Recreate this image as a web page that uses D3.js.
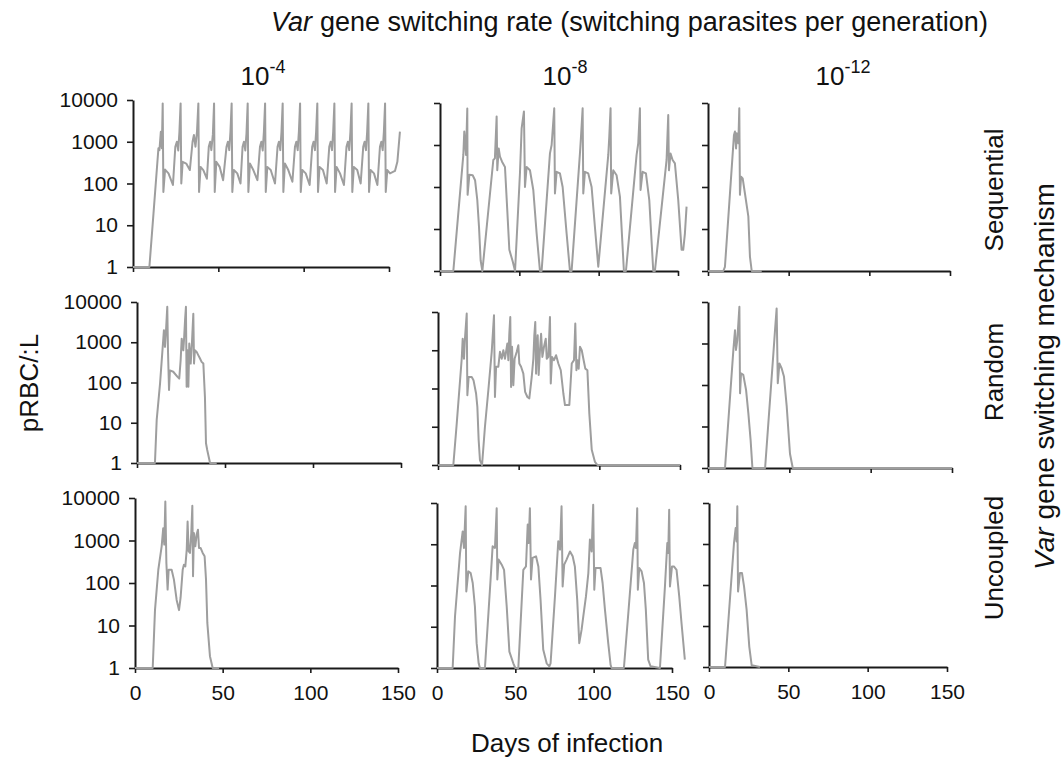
<!DOCTYPE html>
<html>
<head>
<meta charset="utf-8">
<script src="https://cdn.jsdelivr.net/npm/d3@7"></script>
<style>
  body { margin: 0; background: #fff; }
  text { font-family: "Liberation Sans", Arial, sans-serif; fill: #111; }
</style>
</head>
<body>
<svg id="chart" width="1061" height="761"></svg>
<script>
// switching rates (column headers) and mechanisms (row labels)
var rateExponents = ['-4', '-8', '-12']
var mechanisms = ['Sequential', 'Random', 'Uncoupled']
var dayTicks = [0, 50, 100, 150]
var countTicks = [1, 10, 100, 1000, 10000]

// [day, pRBC/uL]
var seqHigh = [[0,1],[9.6,1],[12.0,19],[14.9,700],[15.5,630],[16.3,1740],[16.9,700],[17.4,8300],
  [17.8,63],[18.8,215],[20.8,175],[23.4,92],[24.8,760],[25.7,1000],[26.5,620],[27.2,1740],[27.9,8300],
  [28.3,100],[29.1,330],[31.2,300],[33.3,210],[34.9,1000],[35.7,1450],[36.6,760],[37.5,1740],[38.3,8300],
  [38.7,63],[39.6,250],[41.2,210],[43.3,130],[44.4,760],[45.2,1000],[45.9,630],[46.8,1500],[47.5,8300],
  [47.9,63],[48.8,330],[50.8,250],[52.8,120],[54.8,760],[55.6,1000],[56.4,630],[57.1,1740],[57.8,8300],
  [58.2,63],[59.1,210],[61.1,175],[63.0,100],[64.2,760],[65.0,1000],[65.8,620],[66.5,1600],[67.2,8300],
  [67.6,63],[68.5,300],[70.5,210],[72.9,120],[74.4,760],[75.2,1000],[76.0,620],[76.7,1740],[77.4,8300],
  [77.8,63],[78.7,250],[80.7,210],[83.2,100],[84.7,760],[85.5,1000],[86.3,630],[87.0,1740],[87.7,8300],
  [88.1,63],[89.0,300],[91.0,210],[93.4,110],[94.9,760],[95.7,1000],[96.5,630],[97.2,1740],[97.9,8300],
  [98.3,63],[99.2,210],[101.2,175],[103.5,92],[105.0,760],[105.8,1000],[106.6,630],[107.3,1740],[108.0,8300],
  [108.4,63],[109.3,250],[111.3,210],[113.5,100],[115.0,760],[115.8,1000],[116.6,630],[117.3,1740],[118.0,8300],
  [118.4,63],[119.3,250],[121.3,175],[123.6,92],[125.1,760],[125.9,1000],[126.7,630],[127.4,1740],[128.1,8300],
  [128.5,63],[129.4,250],[131.4,210],[133.4,100],[134.9,760],[135.7,1000],[136.5,630],[137.2,1740],[137.9,8300],
  [138.3,63],[139.2,210],[141.2,175],[143.2,92],[144.7,760],[145.5,1000],[146.3,630],[147.0,1740],[147.7,8300],
  [148.1,63],[149.0,210],[150.6,175],[153.5,200],[154.9,330],[156.4,1740]]

var seqMid = [[0,1],[8.4,1],[14.7,580],[15.3,2100],[16.4,580],[17.2,7400],[17.4,65],[18.5,195],[20.6,190],
  [22.1,145],[23.5,49],[24.6,11],[25.6,1.8],[26.7,1],
  [33.6,440],[34.6,480],[35.7,4800],[36.1,250],[37.0,830],[37.8,530],[39.1,400],[40.95,300],[42.4,28],
  [43.7,3.2],[45.8,1.7],[47.3,1],
  [50.4,215],[51.45,2500],[52.9,6300],[53.55,100],[54.6,300],[56.7,250],[58.8,85],[60.9,7.8],[63.0,1],
  [64.05,1],[69.3,630],[70.35,1000],[72.0,7450],[72.45,70],[73.5,230],[75.6,210],[77.3,100],[79.8,7.8],[81.9,1],
  [82.95,1],[88.2,630],[88.8,1450],[89.9,7450],[90.3,70],[91.35,230],[93.45,210],[95.55,100],[97.65,11],[99.75,1.26],
  [106.05,580],[106.7,1600],[107.5,7450],[107.9,70],[109.2,250],[111.3,190],[113.4,59],[115.9,1],
  [117.2,1],[123.9,580],[124.95,1100],[126.0,7450],[126.4,85],[127.7,230],[129.8,210],[131.9,49],[134.4,1],
  [135.45,1],[142.8,440],[143.85,5200],[144.3,250],[145.3,630],[146.6,440],[148.05,365],[150.15,49],
  [152.25,3.2],[153.3,3.2],[154.35,7.8],[155.4,34]]

var seqLow = [[0,1],[9.5,1],[10.5,1.26],[16.1,1740],[16.7,2100],[17.4,830],[17.8,1900],[18.8,1100],
  [19.4,7450],[19.8,65],[20.5,175],[21.5,160],[22.9,70],[25.0,20],[26.0,2.2],[27.1,1],[33.3,1]]

var randHigh = [[0,1],[10.2,1],[11.2,12],[13.1,95],[15.3,2000],[15.9,770],[16.5,2000],[17.2,7600],[17.6,630],
  [18.2,65],[18.7,200],[20.6,185],[22.9,140],[24.0,125],[24.8,360],[25.4,1230],[26.3,630],[26.7,1120],
  [27.3,3500],[27.8,7600],[28.2,78],[28.6,630],[29.2,78],[29.7,930],[30.5,295],[31.2,930],[32.0,5100],
  [32.4,295],[32.9,630],[33.9,575],[34.8,480],[35.8,395],[36.7,325],[37.7,295],[38.6,44],[39.2,3.1],
  [39.9,2.1],[41.5,1],[45.3,1]]

var randMid = [[0,1],[9.5,1],[11.6,12],[14.7,600],[15.3,2000],[16.1,600],[16.7,2000],[17.8,9100],[18.2,67],
  [19.0,200],[20.9,200],[22.0,165],[23.6,74],[24.4,33],[25.2,4.5],[26.0,1.35],[27.3,1],
  [29.1,10],[31.2,90],[33.3,910],[34.7,8200],[35.3,60],[36.0,370],[37.4,370],[38.4,910],[39.5,600],
  [40.5,1000],[41.5,600],[43.0,1500],[43.6,550],[44.2,2700],[44.8,7400],[45.3,110],[45.9,1230],[46.7,122],
  [47.5,600],[48.8,910],[49.8,1350],[50.4,450],[51.5,370],[52.9,245],[54.0,82],[55.4,60],[56.6,55],
  [58.1,200],[59.1,600],[59.7,2450],[60.3,5500],[60.8,245],[61.2,1000],[61.8,2450],[62.4,225],[63.2,1000],
  [63.9,2700],[64.7,670],[65.7,1230],[66.8,2000],[67.4,600],[68.4,670],[69.4,7400],[69.9,135],[70.7,670],
  [71.9,550],[73.2,740],[74.6,450],[76.1,300],[77.7,74],[78.7,37],[81.4,37],[82.9,450],[84.3,550],
  [85.1,5000],[85.8,300],[86.4,550],[87.2,330],[88.0,1230],[89.1,1000],[90.1,600],[91.3,330],[92.6,300],
  [93.8,22],[95.3,2.5],[97.3,1.2],[98.8,1],[150,1]]

var randLow = [[0,1],[10.45,1],[15.6,700],[16.6,2100],[17.2,700],[18.0,1200],[19.3,7700],[19.7,63],
  [20.3,190],[21.7,175],[23.4,76],[24.8,21],[26.2,4.7],[27.3,1],[35.1,1],[40.2,580],[41.2,2100],
  [42.2,7000],[42.9,110],[43.9,330],[45.3,250],[46.7,160],[48.4,30],[50.4,2.2],[52.1,1],[150,1]]

var uncHigh = [[0,1],[10.1,1],[11.4,23],[13.3,205],[15.2,730],[16.1,1950],[16.7,800],[17.3,8300],[17.9,295],
  [18.6,70],[19.2,205],[20.9,205],[22.2,120],[23.75,40],[25.1,23],[26.0,45],[27.2,205],[27.9,270],
  [28.7,245],[29.5,610],[30.0,2800],[30.6,560],[31.35,510],[32.1,1500],[32.7,6600],[33.1,144],[33.6,1500],
  [34.4,730],[35.15,1380],[35.9,1800],[36.5,670],[37.4,670],[38.6,510],[39.7,425],[40.5,120],[41.25,11.5],
  [42.75,1.9],[44.3,1],[48.0,1]]

var uncMid = [[0,1],[10.0,1],[11.5,18],[14.7,610],[16.4,2050],[17.2,810],[18.3,8300],[18.7,72],[20.0,220],
  [21.5,200],[22.8,115],[24.2,31],[25.3,4],[26.6,1.3],[27.4,1],[30.6,1],
  [34.2,140],[35.5,890],[37.0,810],[38.1,7500],[38.5,140],[39.3,425],[41.3,320],[42.8,240],[44.5,31],
  [46.2,2.5],[48.7,1.3],[50.0,1],[51.9,1],
  [55.1,240],[56.8,290],[57.9,3000],[58.5,1070],[59.3,7500],[60.0,140],[61.0,465],[63.2,510],[64.7,290],
  [66.1,45],[67.8,2.8],[70.0,1.3],[71.7,1.1],
  [72.5,1.3],[75.3,55],[77.4,1180],[78.5,740],[79.5,8300],[80.2,95],[81.2,320],[82.7,425],[84.9,670],
  [86.6,510],[88.0,290],[89.5,45],[90.8,4],[92.3,8.5],[93.4,18],[95.1,55],[96.6,200],[97.6,1300],
  [98.7,670],[99.7,9100],[100.4,79],[101.2,265],[102.9,265],[104.4,265],[105.7,115],[107.2,26],[109.3,4],
  [110.8,1.2],[111.4,1],[119.3,1],
  [122.1,21],[125.3,740],[126.3,1070],[127.0,810],[127.8,7500],[128.2,79],[129.1,265],[130.6,220],
  [132.1,115],[133.3,26],[134.8,1.6],[136.3,1.1],[142.3,1],
  [145.5,95],[147.0,1070],[147.6,610],[148.2,6900],[148.7,95],[150.0,290],[151.2,290],[152.9,240],
  [154.6,55],[156.1,12],[158.2,1.6]]

var uncLow = [[0,1],[10.1,1],[15.75,1050],[16.8,2450],[17.4,1150],[17.85,8300],[18.3,69],[19.5,195],
  [20.8,195],[22.1,91],[23.7,25],[25.4,3.1],[26.9,1.1],[32.1,1]]

var series = [
  [seqHigh, seqMid, seqLow],
  [randHigh, randMid, randLow],
  [uncHigh, uncMid, uncLow]
]

// panel frames: [x of day 0, x of day 150, y of 10000, y of 1]
var frames = [
  [[133, 389, 100, 267], [440, 678, 103, 271], [708, 950, 103, 271]],
  [[137, 401, 302, 463], [438, 680, 312, 465], [708, 952, 302, 468]],
  [[135, 398, 498, 668], [437, 672, 503, 668], [709, 947, 503, 667]]
]

var svg = d3.select('#chart')

series.forEach(function (row, r) {
  row.forEach(function (data, c) {
    var f = frames[r][c]
    var x = d3.scaleLinear().domain([0, 150]).range([f[0], f[1]])
    var y = d3.scaleLog().domain([1, 10000]).range([f[3], f[2]])
    var g = svg.append('g')

    var yAxis = d3.axisLeft(y)
      .tickValues(countTicks)
      .tickSize(6)
      .tickSizeOuter(0)
      .tickPadding(9)
      .tickFormat(c == 0 ? d3.format('d') : '')
    var xAxis = d3.axisBottom(x)
      .tickValues(dayTicks)
      .tickSize(5)
      .tickSizeOuter(0)
      .tickPadding(12)
      .tickFormat(r == 2 ? d3.format('d') : '')

    g.append('g').attr('transform', 'translate(' + f[0] + ',0)').call(yAxis)
    g.append('g').attr('transform', 'translate(0,' + f[3] + ')').call(xAxis)
    g.selectAll('.domain').attr('stroke', '#1a1a1a').attr('stroke-width', 2)
    g.selectAll('.tick line').attr('stroke', '#1a1a1a').attr('stroke-width', 1.6)
    g.selectAll('.tick text').attr('font-size', 21).attr('font-family', '"Liberation Sans", Arial, sans-serif').attr('fill', '#111')

    var line = d3.line()
      .x(function (d) { return x(d[0]) })
      .y(function (d) { return y(d[1]) })

    g.append('path')
      .datum(data)
      .attr('d', line)
      .attr('fill', 'none')
      .attr('stroke', '#9e9e9e')
      .attr('stroke-width', 2)
      .attr('stroke-linejoin', 'round')
  })
})

// main title
var title = svg.append('text').attr('x', 271).attr('y', 31).attr('font-size', 27)
title.append('tspan').attr('font-style', 'italic').text('Var')
title.append('tspan').attr('dx', 8).text('gene switching rate (switching parasites per generation)')

// column headers
var colCenters = [263, 565, 843]
rateExponents.forEach(function (e, i) {
  var t = svg.append('text').attr('x', colCenters[i]).attr('y', 85)
    .attr('text-anchor', 'middle').attr('font-size', 26)
  t.append('tspan').text('10')
  t.append('tspan').attr('dy', -12).attr('font-size', 18).text(e)
})

// row labels
var rowCenters = [190, 372, 558]
mechanisms.forEach(function (m, i) {
  svg.append('text')
    .attr('transform', 'translate(1003,' + rowCenters[i] + ') rotate(-90)')
    .attr('text-anchor', 'middle').attr('font-size', 26)
    .text(m)
})

// right-hand title
var rt = svg.append('text')
  .attr('transform', 'translate(1054,570) rotate(-90)')
  .attr('font-size', 28)
rt.append('tspan').attr('font-style', 'italic').text('Var')
rt.append('tspan').attr('dx', 8).text('gene switching mechanism')

// axis titles
svg.append('text')
  .attr('transform', 'translate(38,383) rotate(-90)')
  .attr('text-anchor', 'middle').attr('font-size', 26)
  .text('pRBC/:L')

svg.append('text')
  .attr('x', 567).attr('y', 752)
  .attr('text-anchor', 'middle').attr('font-size', 26)
  .text('Days of infection')
</script>
</body>
</html>
